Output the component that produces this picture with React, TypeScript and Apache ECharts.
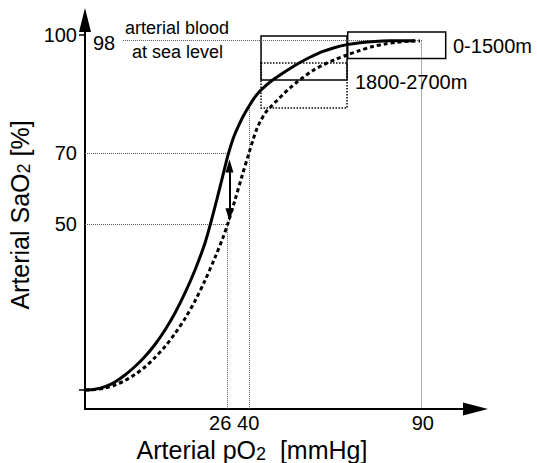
import React, { useEffect, useRef } from "react";
import * as echarts from "echarts";

// Schematic diagram units (x: pO2 axis position, y: SaO2 axis position)
const solidCurve: [number, number][] = [
  [0, 5.08], [2.68, 5.29], [5.36, 5.96], [8.04, 7.22], [10.71, 9.09], [13.39, 11.36],
  [16.07, 14.04], [18.75, 17.25], [21.43, 21.12], [24.11, 25.67], [26.79, 31.02],
  [29.47, 37.17], [32.15, 44.39], [33.75, 50.0], [35.36, 56.15], [36.97, 62.57],
  [38.31, 67.91], [39.65, 72.19], [40.99, 75.4], [42.33, 78.21], [44.21, 81.42],
  [45.55, 83.42], [46.88, 85.03], [48.49, 86.5], [50.09, 87.83], [52.24, 89.3],
  [54.92, 91.04], [57.6, 92.65], [60.27, 94.04], [63.76, 95.59], [66.98, 96.66],
  [70.19, 97.41], [73.67, 97.91], [77.69, 98.26], [81.7, 98.42], [88.4, 98.48],
];

const dashedCurve: [number, number][] = [
  [0, 5.08], [2.68, 5.21], [5.36, 5.61], [8.04, 6.42], [10.71, 7.62], [13.39, 9.22],
  [16.07, 11.23], [18.75, 13.77], [21.43, 16.71], [24.11, 20.19], [26.79, 24.2],
  [29.47, 28.88], [32.15, 34.36], [34.82, 40.51], [36.97, 45.86], [38.31, 49.73],
  [40.18, 55.88], [42.06, 62.3], [43.93, 68.45], [45.0, 71.93], [46.07, 75.0],
  [47.15, 77.27], [48.49, 79.41], [49.83, 80.88], [51.43, 82.49], [53.31, 84.36],
  [54.92, 85.83], [56.79, 87.43], [58.4, 88.64], [61.08, 90.51], [63.76, 91.98],
  [66.98, 93.45], [70.19, 94.65], [73.67, 95.86], [77.15, 96.93], [80.36, 97.59],
  [83.57, 98.05], [87.06, 98.32], [89.74, 98.4],
];

const xTickLabels = ["26", "40", "90"];
const xTickValues = [36.2, 43.7, 90.5];
const yTickLabels = ["50", "70", "100"];
const yTickValues = [49.4, 68.4, 100];
const yTickMarks = [5.08, 100];

// dotted reference lines: [x1, y1, x2, y2]
const refLines: [number, number, number, number][] = [
  [10.2, 98.5, 90.3, 98.5],
  [0, 68.4, 38.4, 68.4],
  [0, 49.4, 38.2, 49.4],
  [38.2, 49.4, 38.2, 0],
  [44.0, 80.5, 44.0, 0],
  [90.0, 98.5, 90.0, 0],
];

// boxes: [x1, y1, x2, y2, style]
const boxes: [number, number, number, number, string][] = [
  [47.15, 92.51, 70.19, 80.48, "dotted"],
  [47.15, 99.73, 70.19, 87.97, "solid"],
  [70.37, 100.8, 96.62, 93.72, "solid"],
];

const shiftArrow: [number, number, number, number] = [38.7, 65.0, 38.7, 51.9];

const FONT = '"Liberation Sans", Arial, sans-serif';

export default function App() {
  const ref = useRef<HTMLDivElement>(null);
  useEffect(() => {
    if (!ref.current) return;
    const chart = echarts.init(ref.current, null, { renderer: "svg" });
    const nearest = (arr: number[], v: number) => {
      let bi = 0;
      arr.forEach((a, i) => {
        if (Math.abs(a - v) < Math.abs(arr[bi] - v)) bi = i;
      });
      return bi;
    };
    chart.setOption({
      animation: false,
      backgroundColor: "#fff",
      textStyle: { fontFamily: FONT },
      grid: { left: 85, top: 20, right: 61.5, bottom: 54, containLabel: false },
      xAxis: {
        type: "value",
        min: 0,
        max: 104.6,
        axisLine: {
          show: true,
          onZero: false,
          lineStyle: { color: "#000", width: 2 },
          symbol: ["none", "triangle"],
          symbolSize: [13, 25],
        },
        axisTick: { show: false },
        splitLine: { show: false },
        axisLabel: {
          customValues: xTickValues,
          formatter: (v: number) => xTickLabels[nearest(xTickValues, v)],
          color: "#000",
          fontSize: 20,
          fontFamily: FONT,
          margin: 4,
        },
      },
      yAxis: {
        type: "value",
        min: 0,
        max: 104.0,
        axisLine: {
          show: true,
          onZero: false,
          lineStyle: { color: "#000", width: 2 },
          symbol: ["none", "triangle"],
          symbolSize: [12, 24],
        },
        axisTick: {
          show: true,
          customValues: yTickMarks,
          length: 6,
          lineStyle: { color: "#000", width: 1.5 },
        },
        splitLine: { show: false },
        axisLabel: {
          customValues: yTickValues,
          formatter: (v: number) => yTickLabels[nearest(yTickValues, v)],
          color: "#000",
          fontSize: 20,
          fontFamily: FONT,
          margin: 8,
        },
      },
      series: [
        {
          type: "line",
          data: solidCurve,
          smooth: 0.3,
          showSymbol: false,
          lineStyle: { color: "#000", width: 3 },
          z: 5,
          markLine: {
            silent: true,
            symbol: "none",
            label: { show: false },
            lineStyle: { color: "#555", type: "dotted", width: 1 },
            data: refLines.map(([x1, y1, x2, y2]) => [
              { coord: [x1, y1] },
              { coord: [x2, y2] },
            ]),
          },
          markArea: {
            silent: true,
            label: { show: false },
            data: boxes.map(([x1, y1, x2, y2, t]) => [
              {
                coord: [x1, y1],
                itemStyle: {
                  color: "rgba(0,0,0,0)",
                  borderColor: "#000",
                  borderWidth: 1.5,
                  borderType: t,
                },
              },
              { coord: [x2, y2] },
            ]),
          },
        },
        {
          type: "line",
          data: dashedCurve,
          smooth: 0.3,
          showSymbol: false,
          lineStyle: { color: "#000", width: 3, type: [4, 3] },
          z: 5,
          markLine: {
            silent: true,
            symbol: ["triangle", "triangle"],
            symbolSize: [8, 13],
            label: { show: false },
            lineStyle: { color: "#000", type: "solid", width: 2 },
            itemStyle: { color: "#000" },
            data: [
              [
                { coord: [shiftArrow[0], shiftArrow[1]] },
                { coord: [shiftArrow[2], shiftArrow[3]] },
              ],
            ],
          },
        },
      ],
      graphic: [
        { type: "text", x: 93, y: 43, style: { text: "98", font: `20px ${FONT}`, fill: "#000", verticalAlign: "middle" } },
        { type: "text", x: 125, y: 28, style: { text: "arterial blood", font: `18px ${FONT}`, fill: "#000", verticalAlign: "middle" } },
        { type: "text", x: 132, y: 52, style: { text: "at sea level", font: `18px ${FONT}`, fill: "#000", verticalAlign: "middle" } },
        { type: "text", x: 453, y: 46, style: { text: "0-1500m", font: `20px ${FONT}`, fill: "#000", verticalAlign: "middle" } },
        { type: "text", x: 355, y: 82, style: { text: "1800-2700m", font: `20px ${FONT}`, fill: "#000", verticalAlign: "middle" } },
        {
          type: "text",
          x: 252,
          y: 450,
          style: {
            text: "{a|Arterial pO}{s|2}{a|  [mmHg]}",
            align: "center",
            verticalAlign: "middle",
            rich: {
              a: { fontSize: 25, fontFamily: FONT, fill: "#000", verticalAlign: "bottom" },
              s: { fontSize: 18, fontFamily: FONT, fill: "#000", verticalAlign: "bottom" },
            },
          },
        },
        {
          type: "text",
          x: 20,
          y: 215,
          rotation: Math.PI / 2,
          style: {
            text: "{a|Arterial SaO}{s|2}{a| [%]}",
            align: "center",
            verticalAlign: "middle",
            rich: {
              a: { fontSize: 25, fontFamily: FONT, fill: "#000", verticalAlign: "bottom" },
              s: { fontSize: 18, fontFamily: FONT, fill: "#000", verticalAlign: "bottom" },
            },
          },
        },
      ],
    });
    return () => chart.dispose();
  }, []);
  return (
    <div
      ref={ref}
      style={{ position: "fixed", left: 0, top: 0, width: 537, height: 463 }}
    />
  );
}
